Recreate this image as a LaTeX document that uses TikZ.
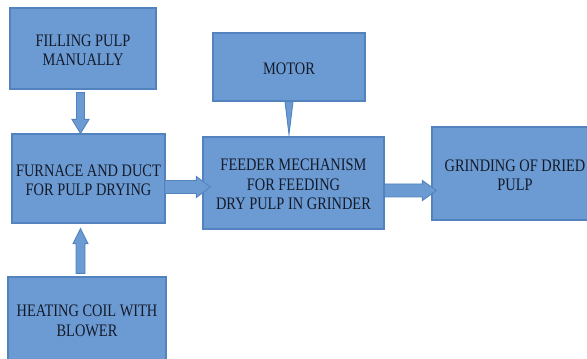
\documentclass[tikz,border=0pt]{standalone}
\usepackage{fontspec}
\setmainfont{Liberation Serif}
\newfontfamily\boxfont{Liberation Serif}
\usetikzlibrary{calc}
\definecolor{boxfill}{HTML}{6B9BD2}
\definecolor{boxline}{HTML}{5283BF}
\definecolor{txt}{HTML}{141A2A}
\newcommand\btext[1]{\raisebox{-3.5pt}[\height][\depth]{\scalebox{1}[1.22]{\begin{tabular}{@{}c@{}}#1\end{tabular}}}}
% vertical block arrow: start, tip, shaft half, head half, signed head length
\newcommand\varrowpath[5]{%
  \filldraw[conn] let \p1=(#1), \p2=(#2) in
   (\x1-#3,\y1) -- (\x1-#3,\y2#5) -- (\x1-#4,\y2#5) -- (\x1,\y2) --
   (\x1+#4,\y2#5) -- (\x1+#3,\y2#5) -- (\x1+#3,\y1) -- cycle;}
% horizontal (rightward) block arrow
\newcommand\harrowpath[5]{%
  \filldraw[conn] let \p1=(#1), \p2=(#2) in
   (\x1,\y1+#3) -- (\x2-#5,\y1+#3) -- (\x2-#5,\y1+#4) -- (\x2,\y1) --
   (\x2-#5,\y1-#4) -- (\x2-#5,\y1-#3) -- (\x1,\y1-#3) -- cycle;}
\begin{document}
\begin{tikzpicture}[x=1pt,y=1pt,
  box/.style={draw=boxline, fill=boxfill, line width=1.2pt, inner sep=0pt,
    text=txt, font=\boxfont\fontsize{14.4}{16}\selectfont},
  conn/.style={draw=boxline, fill=boxfill, line width=0.9pt, line join=miter}]
\useasboundingbox (0,0) rectangle (587,359);
\fill[white] (0,0) rectangle (587,359);
\node[box, minimum width=146pt, minimum height=81pt] (fill) at (83,310.5) {\btext{FILLING PULP\\MANUALLY}};
\node[box, minimum width=153pt, minimum height=89pt] (furn) at (88.5,180.5) {\btext{FURNACE AND DUCT\\FOR PULP DRYING}};
\node[box, minimum width=158pt, minimum height=84pt] (heat) at (87,40) {\btext{HEATING COIL WITH\\BLOWER}};
\node[box, minimum width=152pt, minimum height=68pt] (motor) at (289,292) {\btext{MOTOR}};
\node[box, minimum width=181pt, minimum height=92pt] (feed) at (293.5,176) {\btext{FEEDER MECHANISM\\FOR FEEDING\\DRY PULP IN GRINDER}};
\node[box, minimum width=166pt, minimum height=93pt] (grind) at (515,185.5) {\btext{GRINDING OF DRIED\\PULP}};
% connectors
\coordinate (a1) at ($(fill.south)+(-2.5,-3)$);
\coordinate (a2) at ($(furn.north)+(-8,0)$);
\varrowpath{a1}{a2}{4pt}{8.5pt}{+14pt}
\coordinate (b1) at ($(heat.north)+(-6.5,3)$);
\coordinate (b2) at ($(furn.south)+(-8,-5)$);
\varrowpath{b1}{b2}{4.5pt}{7.5pt}{-15pt}
\coordinate (c1) at ($(furn.east)+(-1,-8.5)$);
\coordinate (c2) at ($(feed.west)+(8,-4)$);
\harrowpath{c1}{c2}{6.5pt}{10.5pt}{14pt}
\coordinate (d1) at ($(feed.east)+(0,-7.5)$);
\coordinate (d2) at ($(grind.west)+(5,-17)$);
\harrowpath{d1}{d2}{6.5pt}{10pt}{14pt}
\coordinate (e2) at ($(motor.south |- feed.north)+(0,2)$);
\filldraw[conn] ($(motor.south)+(-4,0)$) -- (e2) -- ($(motor.south)+(4,0)$) -- cycle;
\end{tikzpicture}
\end{document}
